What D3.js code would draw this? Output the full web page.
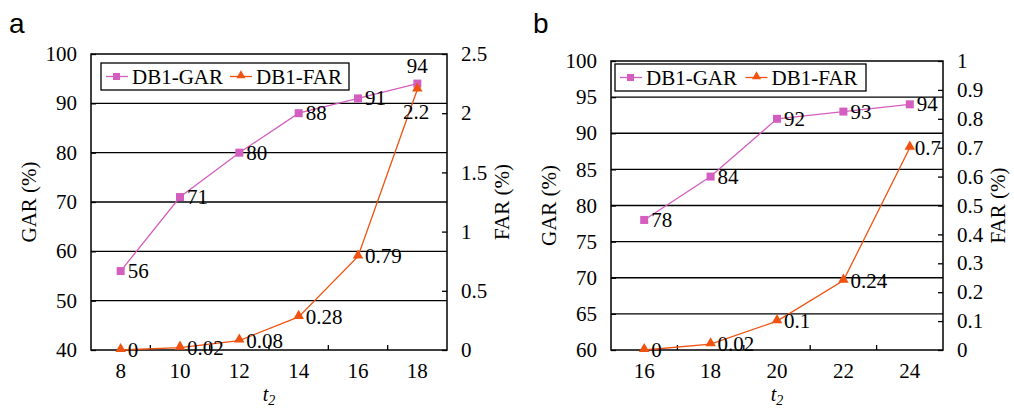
<!DOCTYPE html>
<html>
<head>
<meta charset="utf-8">
<script src="https://cdn.jsdelivr.net/npm/d3@7"></script>
<style>
  body { margin: 0; background: #fff; }
</style>
</head>
<body>
<div id="chart"></div>
<script>
// panel a
const catsA = [8, 10, 12, 14, 16, 18];
const garA = [56, 71, 80, 88, 91, 94];
const farA = [0, 0.02, 0.08, 0.28, 0.79, 2.2];
const garTicksA = [40, 50, 60, 70, 80, 90, 100];
const farTicksA = [0, 0.5, 1, 1.5, 2, 2.5];

// panel b
const catsB = [16, 18, 20, 22, 24];
const garB = [78, 84, 92, 93, 94];
const farB = [0, 0.02, 0.1, 0.24, 0.7];
const garTicksB = [60, 65, 70, 75, 80, 85, 90, 95, 100];
const farTicksB = [0, 0.1, 0.2, 0.3, 0.4, 0.5, 0.6, 0.7, 0.8, 0.9, 1];

const garColor = '#d35ebf';
const farColor = '#f0520f';
const FONT = 'Liberation Serif';
const FS = 21;

const svg = d3.select('#chart').append('svg')
    .attr('width', 1014)
    .attr('height', 410)
    .attr('font-family', FONT);

// every text goes through this so the font is set on the element itself
function txt(parent) {
    return parent.append('text')
        .attr('font-family', FONT)
        .attr('font-size', FS)
        .attr('fill', '#000');
}

function drawPanel(p) {
    const g = svg.append('g');
    const x = d3.scaleBand().domain(p.cats).range([p.left, p.right]);
    const yL = d3.scaleLinear().domain(d3.extent(p.garTicks)).range([p.bottom, p.top]);
    const yR = d3.scaleLinear().domain(d3.extent(p.farTicks)).range([p.bottom, p.top]);
    const cx = d => x(d) + x.bandwidth() / 2;

    // gridlines (from left axis)
    g.selectAll('.grid').data(p.garTicks.slice(1, -1)).enter().append('line')
        .attr('x1', p.left).attr('x2', p.right)
        .attr('y1', d => yL(d)).attr('y2', d => yL(d))
        .attr('stroke', '#000').attr('stroke-width', 1.3);

    // frame
    g.append('rect')
        .attr('x', p.left).attr('y', p.top)
        .attr('width', p.right - p.left).attr('height', p.bottom - p.top)
        .attr('fill', 'none').attr('stroke', '#000').attr('stroke-width', 1.5);

    // left / right axes: only tick marks from d3, labels drawn below
    const axL = g.append('g').attr('transform', `translate(${p.left},0)`)
        .call(d3.axisLeft(yL).tickValues(p.garTicks).tickSize(-5).tickFormat(''));
    const axR = g.append('g').attr('transform', `translate(${p.right},0)`)
        .call(d3.axisRight(yR).tickValues(p.farTicks).tickSize(-5).tickFormat(''));
    [axL, axR].forEach(ax => {
        ax.attr('font-family', FONT);
        ax.select('.domain').remove();
        ax.selectAll('.tick line').attr('stroke-width', 1.3);
        ax.selectAll('.tick text').remove();
    });
    p.garTicks.forEach(t => {
        txt(g).attr('x', p.left - 14).attr('y', yL(t)).attr('dy', '0.34em')
            .attr('text-anchor', 'end').text(t);
    });
    p.farTicks.forEach(t => {
        txt(g).attr('x', p.right + 14).attr('y', yR(t)).attr('dy', '0.34em')
            .attr('text-anchor', 'start').text(t);
    });

    // bottom axis: ticks at category boundaries
    const bounds = p.cats.slice(1).map(c => x(c));
    g.selectAll('.btick').data(bounds).enter().append('line')
        .attr('x1', d => d).attr('x2', d => d)
        .attr('y1', p.bottom).attr('y2', p.bottom - 5)
        .attr('stroke', '#000').attr('stroke-width', 1.3);
    p.cats.forEach(c => {
        txt(g).attr('x', cx(c)).attr('y', p.bottom + 28)
            .attr('text-anchor', 'middle').text(c);
    });

    // axis titles
    txt(g).attr('transform', `translate(${p.left - 55},${(p.top + p.bottom) / 2}) rotate(-90)`)
        .attr('text-anchor', 'middle').text('GAR (%)');
    txt(g).attr('transform', `translate(${p.right + 62},${(p.top + p.bottom) / 2}) rotate(-90)`)
        .attr('text-anchor', 'middle').text('FAR (%)');
    const xt = txt(g)
        .attr('x', (p.left + p.right) / 2).attr('y', p.bottom + 51)
        .attr('font-size', 20)
        .attr('text-anchor', 'middle').attr('font-style', 'italic');
    xt.append('tspan').text('t');
    xt.append('tspan').attr('font-size', 14).attr('dy', 4).text('2');

    // panel letter
    svg.append('text')
        .attr('x', p.letterX).attr('y', 33)
        .attr('font-size', 28)
        .attr('font-family', 'Liberation Sans')
        .text(p.letter);

    // GAR series
    const lineL = d3.line().x((d, i) => cx(p.cats[i])).y(d => yL(d));
    g.append('path').datum(p.gar)
        .attr('d', lineL).attr('fill', 'none')
        .attr('stroke', garColor).attr('stroke-width', 1.3);
    g.selectAll('.sq').data(p.gar).enter().append('rect')
        .attr('x', (d, i) => cx(p.cats[i]) - 4).attr('y', d => yL(d) - 4)
        .attr('width', 8).attr('height', 8).attr('fill', garColor);

    // FAR series
    const lineR = d3.line().x((d, i) => cx(p.cats[i])).y(d => yR(d));
    g.append('path').datum(p.far)
        .attr('d', lineR).attr('fill', 'none')
        .attr('stroke', farColor).attr('stroke-width', 1.3);
    const tri = d3.symbol().type(d3.symbolTriangle).size(48);
    g.selectAll('.tri').data(p.far).enter().append('path')
        .attr('d', tri)
        .attr('transform', (d, i) => `translate(${cx(p.cats[i])},${yR(d) - 1})`)
        .attr('fill', farColor);

    // data labels
    p.gar.forEach((v, i) => {
        const pos = p.garLabelPos[i];
        txt(g).attr('x', cx(p.cats[i]) + pos[0]).attr('y', yL(v) + pos[1])
            .attr('text-anchor', pos[2] || 'start').text(v);
    });
    p.far.forEach((v, i) => {
        const pos = p.farLabelPos[i];
        txt(g).attr('x', cx(p.cats[i]) + pos[0]).attr('y', yR(v) + pos[1])
            .attr('text-anchor', pos[2] || 'start').text(v);
    });

    // legend
    const lg = g.append('g').attr('transform', `translate(${p.legX},${p.legY})`);
    lg.append('rect').attr('width', p.legW).attr('height', 27)
        .attr('fill', '#fff').attr('stroke', '#000').attr('stroke-width', 1.3);
    const items = [
        { name: 'DB1-GAR', color: garColor, shape: 'sq', x: 5 },
        { name: 'DB1-FAR', color: farColor, shape: 'tri', x: p.legW * 0.52 }
    ];
    items.forEach(it => {
        const ig = lg.append('g').attr('transform', `translate(${it.x},13.5)`);
        ig.append('line').attr('x1', 0).attr('x2', 22)
            .attr('stroke', it.color).attr('stroke-width', 1.3);
        if (it.shape === 'sq') {
            ig.append('rect').attr('x', 7).attr('y', -3.5).attr('width', 7).attr('height', 7).attr('fill', it.color);
        } else {
            ig.append('path').attr('d', d3.symbol().type(d3.symbolTriangle).size(36))
                .attr('transform', 'translate(11,-1)').attr('fill', it.color);
        }
        txt(ig).attr('x', 26).attr('y', 7).text(it.name);
    });
}

drawPanel({
    letter: 'a', letterX: 9,
    cats: catsA, gar: garA, far: farA,
    garTicks: garTicksA, farTicks: farTicksA,
    left: 91, right: 447, top: 54, bottom: 350,
    legX: 101, legY: 63, legW: 248,
    garLabelPos: [[7, 7], [7, 7], [7, 7], [7, 7], [7, 7], [0, -11, 'middle']],
    farLabelPos: [[7, 7], [7, 7], [7, 7], [7, 7], [7, 7], [12, 29, 'end']]
});

drawPanel({
    letter: 'b', letterX: 533,
    cats: catsB, gar: garB, far: farB,
    garTicks: garTicksB, farTicks: farTicksB,
    left: 611, right: 943, top: 61, bottom: 350,
    legX: 615, legY: 64, legW: 251,
    garLabelPos: [[7, 7], [7, 7], [7, 7], [7, 7], [7, 7]],
    farLabelPos: [[7, 7], [7, 7], [7, 7], [7, 7], [5, 7]]
});
</script>
</body>
</html>
